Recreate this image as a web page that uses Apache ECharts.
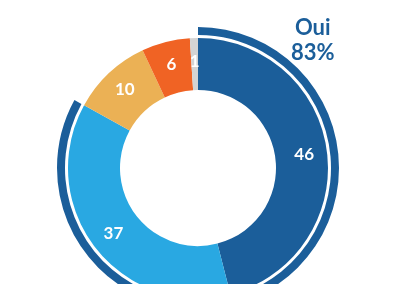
<!DOCTYPE html>
<html><head><meta charset="utf-8">
<script src="https://cdn.jsdelivr.net/npm/echarts@6/dist/echarts.min.js"></script>
<style>html,body{margin:0;padding:0;background:#fff}#c{width:400px;height:284px}</style>
</head><body><div id="c"></div>
<script>
var categories = ['A', 'B', 'C', 'D', 'E'];
var values = [46, 37, 10, 6, 1];
var colors = ['#1B5E9A', '#29A8E2', '#EBB155', '#F06324', '#D4D4D4'];
var ouiLabel = 'Oui';
var ouiValue = 83;

var chart = echarts.init(document.getElementById('c'));
chart.setOption({
  animation: false,
  graphic: [{
    type: 'text', left: 291, top: 15,
    style: { text: ouiLabel + '\n' + ouiValue + '%', fill: '#1B5E9A', font: 'bold 22px Lato', textAlign: 'center', lineHeight: 25, x: 20 }
  }],
  series: [{
    type: 'pie', center: [198, 168], radius: [78, 130], startAngle: 90, clockwise: true,
    silent: true,
    label: { show: true, position: 'inside', color: '#fff', fontFamily: 'Lato', fontWeight: 'bold', fontSize: 17, formatter: '{c}' },
    labelLine: { show: false },
    data: categories.map(function (c, i) { return { name: c, value: values[i], itemStyle: { color: colors[i] } }; })
  }, {
    type: 'pie', center: [198, 168], radius: [133, 141], startAngle: 90, clockwise: true,
    silent: true,
    label: { show: false }, labelLine: { show: false },
    data: [
      { name: 'oui', value: ouiValue, itemStyle: { color: '#1B5E9A' } },
      { name: 'rest', value: 100 - ouiValue, itemStyle: { color: 'rgba(0,0,0,0)' } }
    ]
  }]
});
</script></body></html>
